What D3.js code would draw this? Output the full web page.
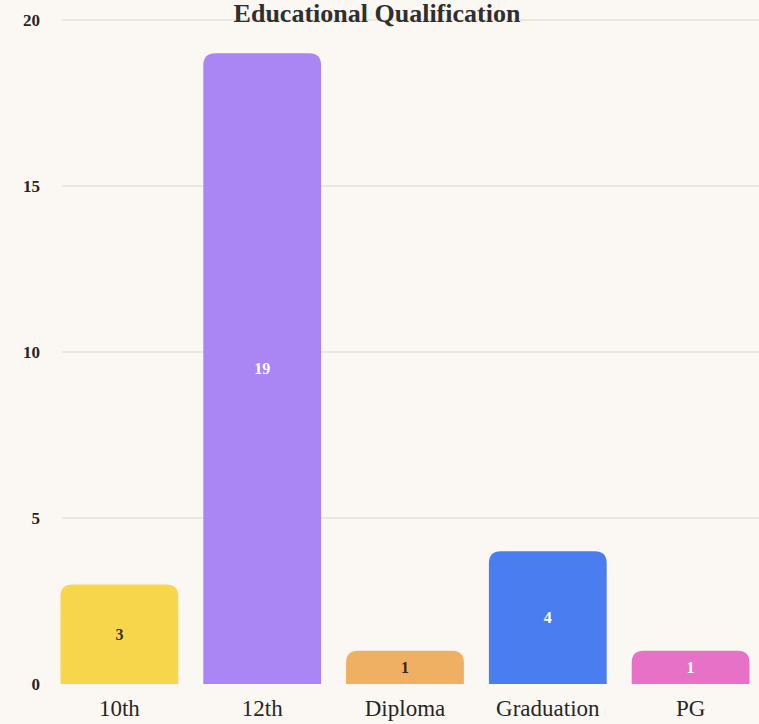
<!DOCTYPE html>
<html>
<head>
<meta charset="utf-8">
<script src="https://cdn.jsdelivr.net/npm/d3@7"></script>
<style>
  body { margin: 0; background: #fbf8f4; }
  svg { display: block; }
  .tick text { font-family: "Liberation Serif", "DejaVu Serif", serif; fill: #262626; }
</style>
</head>
<body>
<div class="chart"></div>
<script>
var categories = ["10th", "12th", "Diploma", "Graduation", "PG"];
var counts = [3, 19, 1, 4, 1];
var barColors = ["#f8d64c", "#a986f3", "#f0b064", "#4a7ef0", "#e671c6"];
var labelColors = ["#3a2e10", "#ffffff", "#3a2410", "#ffffff", "#ffffff"];
var yTicks = [0, 5, 10, 15, 20];

var svgWidth = 759;
var svgHeight = 724;
var margin = {top: 20, right: -3, bottom: 40, left: 48};
var width = svgWidth - margin.left - margin.right;
var height = svgHeight - margin.top - margin.bottom;

var svg = d3.select(".chart")
    .append("svg")
    .attr("width", svgWidth)
    .attr("height", svgHeight);

svg.append("rect")
    .attr("width", svgWidth)
    .attr("height", svgHeight)
    .attr("fill", "#fbf8f4");

var chartGroup = svg.append("g")
    .attr("transform", "translate(" + margin.left + "," + margin.top + ")");

var xScale = d3.scaleBand().domain(categories).range([0, width]).paddingInner(0.175).paddingOuter(0.0875);
var yScale = d3.scaleLinear().domain([0, 20]).range([height, 0]);

// gridlines
chartGroup.append("g")
    .selectAll("line")
    .data(yTicks.slice(1))
    .enter()
    .append("line")
    .attr("x1", 14)
    .attr("x2", width)
    .attr("y1", function(d) { return yScale(d); })
    .attr("y2", function(d) { return yScale(d); })
    .attr("stroke", "#ebe6e0")
    .attr("stroke-width", 2);

// y axis
var leftAxis = d3.axisLeft(yScale).tickValues(yTicks).tickSize(0).tickPadding(8);
var yAxisG = chartGroup.append("g").call(leftAxis);
yAxisG.select(".domain").remove();
yAxisG.selectAll("text").attr("font-size", "17px").attr("font-weight", "bold");

// bars with rounded tops
function topRounded(x, y, w, h, r) {
    r = Math.min(r, h, w / 2);
    return "M" + x + "," + (y + h) +
        "V" + (y + r) +
        "Q" + x + "," + y + " " + (x + r) + "," + y +
        "H" + (x + w - r) +
        "Q" + (x + w) + "," + y + " " + (x + w) + "," + (y + r) +
        "V" + (y + h) + "Z";
}

chartGroup.selectAll(".bar")
    .data(counts)
    .enter()
    .append("path")
    .attr("class", "bar")
    .attr("d", function(d, i) {
        var x = xScale(categories[i]);
        var y = yScale(d);
        return topRounded(x, y, xScale.bandwidth(), height - y, 12);
    })
    .attr("fill", function(d, i) { return barColors[i]; });

// value labels
chartGroup.selectAll(".val")
    .data(counts)
    .enter()
    .append("text")
    .attr("class", "val")
    .attr("x", function(d, i) { return xScale(categories[i]) + xScale.bandwidth() / 2; })
    .attr("y", function(d) { return (yScale(d) + height) / 2; })
    .attr("dy", "0.35em")
    .attr("text-anchor", "middle")
    .attr("font-family", "Liberation Serif, serif")
    .attr("font-size", "16px")
    .attr("font-weight", "bold")
    .attr("fill", function(d, i) { return labelColors[i]; })
    .text(function(d) { return d; });

// x axis
var bottomAxis = d3.axisBottom(xScale).tickSize(0).tickPadding(16);
var xAxisG = chartGroup.append("g")
    .attr("transform", "translate(0," + height + ")")
    .call(bottomAxis);
xAxisG.select(".domain").remove();
xAxisG.selectAll("text").attr("font-size", "23px");

// title
svg.append("text")
    .attr("x", 377)
    .attr("y", 22)
    .attr("text-anchor", "middle")
    .attr("font-family", "Liberation Serif, serif")
    .attr("font-size", "26px")
    .attr("font-weight", "bold")
    .attr("fill", "#2f2f2f")
    .text("Educational Qualification");
</script>
</body>
</html>
